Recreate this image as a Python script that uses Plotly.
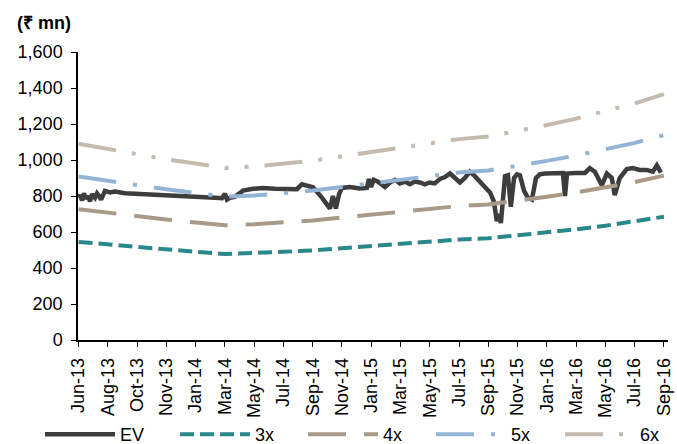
import plotly.graph_objects as go

tick_labels = ["Jun-13", "Aug-13", "Oct-13", "Nov-13", "Jan-14", "Mar-14", "May-14",
               "Jul-14", "Sep-14", "Nov-14", "Jan-15", "Mar-15", "May-15", "Jul-15",
               "Sep-15", "Nov-15", "Jan-16", "Mar-16", "May-16", "Jul-16", "Sep-16"]
tick_pos = list(range(len(tick_labels)))

# EV series (position in label-period units, value in Rs mn)
ev_t = [0.0, 0.05, 0.12, 0.18, 0.25, 0.32, 0.39, 0.46, 0.56, 0.63, 0.70, 0.77, 0.90,
        1.07, 1.24, 1.41, 1.59, 1.93, 2.27, 2.61, 2.95, 3.29, 3.64, 3.98, 4.32, 4.66,
        4.90, 5.00, 5.07, 5.17, 5.34, 5.62, 5.96, 6.30, 6.71, 7.32, 7.46, 7.63, 7.84,
        8.01, 8.32, 8.59, 8.69, 8.79, 8.90, 9.00, 9.27, 9.61, 9.85, 9.92, 9.99, 10.09,
        10.23, 10.37, 10.47, 10.64, 10.81, 10.98, 11.15, 11.32, 11.49, 11.66, 11.83,
        12.00, 12.17, 12.35, 12.52, 12.69, 12.86, 13.03, 13.20, 13.37, 13.54, 13.71,
        13.88, 14.06, 14.19, 14.29, 14.36, 14.43, 14.50, 14.57, 14.67, 14.77, 14.88,
        14.98, 15.08, 15.22, 15.35, 15.49, 15.63, 15.76, 15.93, 16.27, 16.55, 16.62,
        16.69, 16.96, 17.30, 17.47, 17.64, 17.88, 18.05, 18.22, 18.32, 18.49, 18.73,
        18.94, 19.17, 19.41, 19.62, 19.76, 19.90]
ev_val = [790, 805, 775, 815, 785, 800, 770, 810, 790, 815, 800, 780, 828,
          820, 825, 818, 815, 812, 810, 808, 805, 802, 800, 796, 793, 790,
          788, 812, 780, 790, 795, 830, 840, 845, 840, 835, 838, 865, 858,
          848, 790, 730, 800, 730, 810, 845, 850, 842, 845, 895, 850, 890,
          880, 860, 850, 875, 890, 870, 880, 865, 880, 875, 865,
          875, 870, 895, 905, 925, 900, 875, 900, 935, 910, 875,
          850, 820, 770, 660, 700, 650, 780, 910, 915, 740, 900,
          920, 915, 830, 790, 780, 900, 920, 925, 928, 928, 800,
          925, 928, 928, 955, 935, 860, 925, 900, 805, 900, 950,
          955, 945, 945, 935, 970, 930]

mult_t = list(range(21))
pe_3x = [545, 530, 515, 502, 490, 478, 482, 490, 498, 510, 522, 535, 548, 558, 565, 580, 597, 615, 635, 658, 685]
pe_4x = [727, 707, 687, 669, 653, 637, 643, 653, 664, 680, 696, 713, 731, 744, 753, 773, 796, 820, 847, 877, 913]
pe_5x = [908, 883, 858, 837, 817, 797, 803, 817, 830, 850, 870, 892, 913, 930, 942, 967, 995, 1025, 1058, 1095, 1138]
pe_6x = [1090, 1060, 1030, 1004, 980, 956, 964, 980, 996, 1020, 1044, 1070, 1096, 1116, 1130, 1160, 1194, 1230, 1270, 1314, 1366]

FONT = "Liberation Sans, Arial, sans-serif"

fig = go.Figure()
fig.add_trace(go.Scatter(x=ev_t, y=ev_val, mode="lines", name="EV", legend="legend",
                         line=dict(color="#3d3d3d", width=4.5)))
fig.add_trace(go.Scatter(x=mult_t, y=pe_3x, mode="lines", name="3x", legend="legend2",
                         line=dict(color="#2a878a", width=4, dash="14px,6px")))
fig.add_trace(go.Scatter(x=mult_t, y=pe_4x, mode="lines", name="4x", legend="legend3",
                         line=dict(color="#a89a86", width=4, dash="38px,18px")))
fig.add_trace(go.Scatter(x=mult_t, y=pe_5x, mode="lines", name="5x", legend="legend4",
                         line=dict(color="#93b4d4", width=4, dash="38px,17px,4px,17px")))
fig.add_trace(go.Scatter(x=mult_t, y=pe_6x, mode="lines", name="6x", legend="legend5",
                         line=dict(color="#c4baae", width=4, dash="38px,16px,4px,16px,4px,16px")))


def legend_box(left_px):
    return dict(orientation="h", xref="container", yref="container",
                x=left_px / 677, xanchor="left", y=0.063, yanchor="top",
                bgcolor="rgba(0,0,0,0)", itemwidth=70, font=dict(size=18))


fig.update_layout(
    width=677, height=444,
    margin=dict(l=78, r=9, t=52, b=104, autoexpand=False),
    paper_bgcolor="white", plot_bgcolor="white",
    font=dict(family=FONT, size=18, color="#000000"),
    showlegend=True,
    legend=legend_box(40),
    legend2=legend_box(175),
    legend3=legend_box(303),
    legend4=legend_box(431),
    legend5=legend_box(560),
    annotations=[dict(text="<b>(₹ mn)</b>", xref="paper", yref="paper",
                      x=-0.106, y=1.10, xanchor="left", yanchor="middle",
                      showarrow=False, font=dict(size=18, family=FONT))],
)
fig.update_xaxes(range=[-0.02, 20.14], tickmode="array", tickvals=tick_pos,
                 ticktext=tick_labels, tickangle=-90, showgrid=False, zeroline=False,
                 showline=True, linecolor="black", linewidth=1.5,
                 ticks="outside", ticklen=5, tickcolor="black",
                 ticklabelstandoff=4,
                 tickfont=dict(size=18, family=FONT))
fig.update_yaxes(range=[0, 1600], tickvals=[0, 200, 400, 600, 800, 1000, 1200, 1400, 1600],
                 tickformat=",d", showgrid=False, zeroline=False,
                 showline=True, linecolor="black", linewidth=1.5,
                 ticks="outside", ticklen=5, tickcolor="black",
                 ticklabelstandoff=5,
                 tickfont=dict(size=18, family=FONT))

fig.write_html("out.html", config={"displayModeBar": False},
               post_script="document.body.style.margin='0';")
